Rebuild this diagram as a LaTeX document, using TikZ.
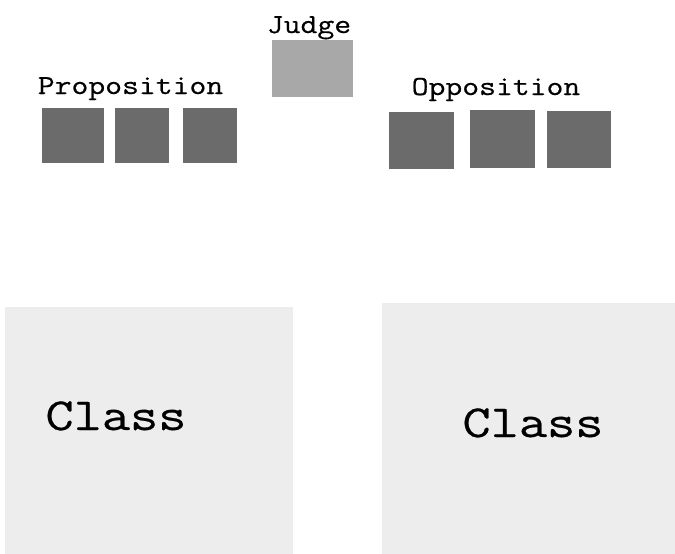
\documentclass[tikz,border=0pt]{standalone}
\usepackage{fontspec}
\newfontfamily\courfont[FakeStretch=1.19,FakeBold=0.5]{Latin Modern Mono}
\definecolor{darkbox}{HTML}{6B6B6B}
\definecolor{judgebox}{HTML}{A8A8A8}
\definecolor{classbox}{HTML}{EDEDED}
\begin{document}
\begin{tikzpicture}[x=1pt,y=-1pt,
  seat/.style={fill=darkbox,draw=none,inner sep=0pt,minimum width=#1,minimum height=55pt},
  judgestyle/.style={fill=judgebox,draw=none,inner sep=0pt,minimum width=81pt,minimum height=57pt},
  classstyle/.style={fill=classbox,draw=none,inner sep=0pt},
  lab/.style={font=\courfont\fontsize{27.5}{30}\selectfont,anchor=base,inner sep=0pt},
  biglab/.style={font=\courfont\fontsize{46}{50}\selectfont,anchor=base,inner sep=0pt}]
\useasboundingbox (0,0) rectangle (675,554);
\fill[white] (0,0) rectangle (675,554);
% class areas
\node[classstyle,minimum width=288pt,minimum height=247pt] (classL) at (148.5,430.5) {};
\node[classstyle,minimum width=293pt,minimum height=251pt] (classR) at (528.5,428.5) {};
\node[biglab] (classLtxt) at (116,430) {Class};
\node[biglab] (classRtxt) at (533,437) {Class};
% judge
\node[lab] (judgetxt) at (309,33) {Judge};
\node[judgestyle] (judge) at (312.5,68.5) {};
% proposition
\node[lab] (proptxt) at (130.5,94) {Proposition};
\node[seat=62pt] (p1) at (73,135) {};
\node[seat=54pt] (p2) at (142,135) {};
\node[seat=54pt] (p3) at (210,135) {};
% opposition
\node[lab] (opptxt) at (496,95) {Opposition};
\node[seat=65pt,minimum height=57pt] (o1) at (421.5,140) {};
\node[seat=65pt,minimum height=58pt] (o2) at (502.5,139) {};
\node[seat=64pt,minimum height=57pt] (o3) at (579,139.5) {};
\end{tikzpicture}
\end{document}
